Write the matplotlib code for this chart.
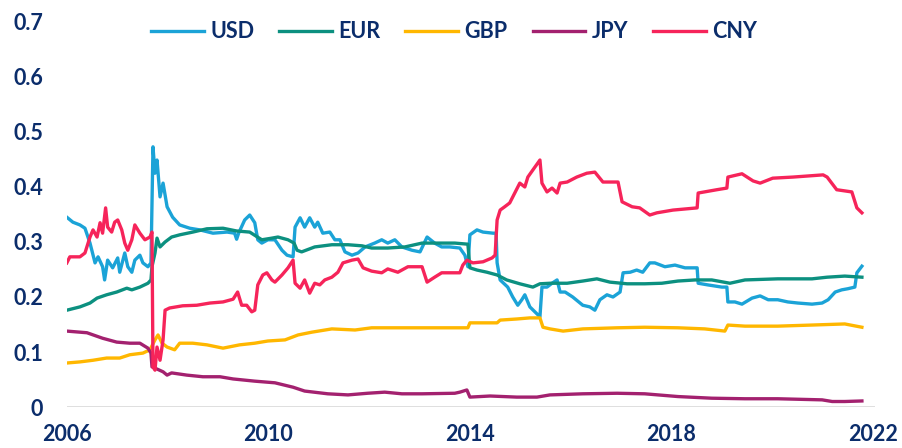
import matplotlib
matplotlib.use("Agg")
import matplotlib.pyplot as plt

# values (decimal year, share)
usd_t = [2006.00, 2006.12, 2006.26, 2006.36, 2006.46, 2006.56, 2006.62, 2006.71, 2006.75, 2006.81,
         2006.91, 2007.01, 2007.05, 2007.15, 2007.21, 2007.29, 2007.35, 2007.45, 2007.51, 2007.61,
         2007.67, 2007.71, 2007.75, 2007.79, 2007.85, 2007.91, 2007.99, 2008.10, 2008.24, 2008.44,
         2008.64, 2008.90, 2009.18, 2009.33, 2009.37, 2009.41, 2009.53, 2009.63, 2009.73, 2009.79,
         2009.87, 2009.99, 2010.13, 2010.27, 2010.37, 2010.49, 2010.53, 2010.63, 2010.72, 2010.82,
         2010.92, 2010.98, 2011.08, 2011.22, 2011.32, 2011.42, 2011.52, 2011.66, 2011.78, 2011.92,
         2012.11, 2012.25, 2012.37, 2012.51, 2012.65, 2012.85, 2013.01, 2013.15, 2013.30, 2013.44,
         2013.60, 2013.80, 2013.90, 2013.96, 2014.00, 2014.14, 2014.26, 2014.46, 2014.52, 2014.54,
         2014.60, 2014.75, 2014.85, 2014.95, 2015.03, 2015.09, 2015.19, 2015.29, 2015.39, 2015.43,
         2015.53, 2015.63, 2015.73, 2015.79, 2015.89, 2016.04, 2016.24, 2016.38, 2016.48, 2016.58,
         2016.72, 2016.84, 2016.98, 2017.04, 2017.18, 2017.31, 2017.43, 2017.57, 2017.67, 2017.87,
         2018.07, 2018.27, 2018.47, 2018.51, 2018.53, 2018.72, 2019.00, 2019.10, 2019.12, 2019.26,
         2019.40, 2019.60, 2019.76, 2019.92, 2020.11, 2020.31, 2020.51, 2020.79, 2020.99, 2021.11,
         2021.25, 2021.38, 2021.50, 2021.64, 2021.68, 2021.78]
usd = [0.345, 0.336, 0.331, 0.325, 0.298, 0.262, 0.273, 0.255, 0.231, 0.267,
       0.253, 0.271, 0.245, 0.280, 0.255, 0.245, 0.267, 0.276, 0.262, 0.255,
       0.262, 0.473, 0.425, 0.449, 0.382, 0.407, 0.364, 0.345, 0.331, 0.325,
       0.322, 0.316, 0.318, 0.316, 0.305, 0.316, 0.340, 0.349, 0.335, 0.304,
       0.298, 0.304, 0.304, 0.285, 0.276, 0.273, 0.327, 0.344, 0.327, 0.344,
       0.327, 0.336, 0.316, 0.318, 0.304, 0.304, 0.282, 0.276, 0.280, 0.291,
       0.298, 0.304, 0.298, 0.304, 0.291, 0.285, 0.282, 0.309, 0.298, 0.291,
       0.291, 0.289, 0.276, 0.255, 0.313, 0.322, 0.318, 0.316, 0.316, 0.262,
       0.231, 0.218, 0.200, 0.185, 0.195, 0.204, 0.182, 0.173, 0.164, 0.218,
       0.218, 0.225, 0.231, 0.209, 0.209, 0.200, 0.185, 0.182, 0.176, 0.195,
       0.204, 0.200, 0.209, 0.244, 0.245, 0.249, 0.245, 0.262, 0.262, 0.255,
       0.258, 0.253, 0.253, 0.253, 0.225, 0.222, 0.218, 0.218, 0.191, 0.191,
       0.187, 0.198, 0.202, 0.195, 0.195, 0.191, 0.189, 0.187, 0.189, 0.195,
       0.209, 0.213, 0.215, 0.218, 0.244, 0.256]

eur_t = [2006.00, 2006.26, 2006.46, 2006.60, 2006.79, 2006.99, 2007.19, 2007.29, 2007.45, 2007.61,
         2007.67, 2007.69, 2007.75, 2007.79, 2007.85, 2007.95, 2008.08, 2008.24, 2008.50, 2008.78,
         2009.10, 2009.37, 2009.63, 2009.87, 2010.07, 2010.19, 2010.39, 2010.51, 2010.57, 2010.66,
         2010.92, 2011.26, 2011.58, 2011.86, 2012.05, 2012.37, 2012.71, 2013.05, 2013.36, 2013.70,
         2013.96, 2014.00, 2014.14, 2014.34, 2014.54, 2014.73, 2014.99, 2015.25, 2015.39, 2015.59,
         2015.93, 2016.24, 2016.52, 2016.78, 2017.12, 2017.47, 2017.81, 2018.13, 2018.47, 2018.80,
         2019.16, 2019.46, 2020.11, 2020.79, 2021.09, 2021.44, 2021.78]
eur = [0.176, 0.182, 0.189, 0.198, 0.204, 0.209, 0.216, 0.213, 0.218, 0.225,
       0.231, 0.255, 0.280, 0.307, 0.291, 0.300, 0.309, 0.313, 0.318, 0.324,
       0.325, 0.320, 0.318, 0.304, 0.307, 0.309, 0.304, 0.298, 0.285, 0.282,
       0.291, 0.295, 0.295, 0.293, 0.289, 0.289, 0.291, 0.298, 0.298, 0.298,
       0.296, 0.253, 0.249, 0.245, 0.240, 0.231, 0.224, 0.218, 0.224, 0.225,
       0.225, 0.229, 0.233, 0.227, 0.224, 0.224, 0.225, 0.229, 0.231, 0.231,
       0.225, 0.231, 0.233, 0.233, 0.236, 0.238, 0.236]

gbp_t = [2006.00, 2006.26, 2006.52, 2006.79, 2007.05, 2007.25, 2007.51, 2007.65, 2007.75, 2007.81,
         2007.89, 2007.99, 2008.14, 2008.24, 2008.50, 2008.78, 2009.10, 2009.43, 2009.73, 2009.99,
         2010.33, 2010.59, 2010.86, 2011.26, 2011.72, 2012.05, 2012.71, 2013.70, 2013.96, 2014.00,
         2014.54, 2014.60, 2014.93, 2015.19, 2015.39, 2015.45, 2015.59, 2015.85, 2016.24, 2016.92,
         2017.47, 2018.13, 2018.66, 2019.06, 2019.12, 2019.46, 2020.11, 2020.79, 2021.44, 2021.78]
gbp = [0.080, 0.082, 0.085, 0.089, 0.089, 0.095, 0.098, 0.104, 0.122, 0.131,
       0.116, 0.109, 0.104, 0.116, 0.116, 0.113, 0.107, 0.113, 0.116, 0.120,
       0.122, 0.131, 0.136, 0.142, 0.140, 0.144, 0.144, 0.144, 0.144, 0.153,
       0.153, 0.158, 0.160, 0.162, 0.162, 0.145, 0.142, 0.138, 0.142, 0.144,
       0.145, 0.144, 0.142, 0.138, 0.149, 0.147, 0.147, 0.149, 0.151, 0.145]

jpy_t = [2006.00, 2006.40, 2006.71, 2006.99, 2007.25, 2007.45, 2007.61, 2007.67, 2007.69, 2007.79,
         2007.91, 2007.99, 2008.08, 2008.38, 2008.70, 2009.04, 2009.30, 2009.73, 2010.13, 2010.49,
         2010.72, 2011.18, 2011.58, 2011.97, 2012.31, 2012.65, 2013.05, 2013.70, 2013.80, 2013.94,
         2014.00, 2014.40, 2014.93, 2015.33, 2015.59, 2016.24, 2016.92, 2017.47, 2018.13, 2018.80,
         2019.46, 2020.11, 2020.99, 2021.19, 2021.44, 2021.78]
jpy = [0.138, 0.135, 0.125, 0.118, 0.116, 0.116, 0.107, 0.098, 0.073, 0.069,
       0.064, 0.058, 0.062, 0.058, 0.055, 0.055, 0.051, 0.047, 0.044, 0.036,
       0.029, 0.024, 0.022, 0.025, 0.027, 0.024, 0.024, 0.025, 0.027, 0.031,
       0.018, 0.020, 0.018, 0.018, 0.022, 0.024, 0.025, 0.024, 0.019, 0.016,
       0.015, 0.015, 0.013, 0.010, 0.010, 0.011]

cny_t = [2006.00, 2006.06, 2006.26, 2006.36, 2006.46, 2006.52, 2006.60, 2006.66, 2006.71, 2006.77,
         2006.81, 2006.89, 2006.95, 2007.01, 2007.09, 2007.15, 2007.21, 2007.29, 2007.35, 2007.45,
         2007.55, 2007.65, 2007.69, 2007.71, 2007.75, 2007.79, 2007.85, 2007.91, 2007.95, 2008.04,
         2008.30, 2008.58, 2008.84, 2009.10, 2009.30, 2009.39, 2009.47, 2009.57, 2009.67, 2009.73,
         2009.79, 2009.89, 2009.97, 2010.07, 2010.13, 2010.27, 2010.39, 2010.49, 2010.53, 2010.63,
         2010.72, 2010.82, 2010.92, 2011.02, 2011.12, 2011.26, 2011.38, 2011.48, 2011.66, 2011.78,
         2011.88, 2012.05, 2012.25, 2012.37, 2012.57, 2012.77, 2013.05, 2013.15, 2013.30, 2013.44,
         2013.70, 2013.80, 2013.86, 2013.94, 2014.06, 2014.26, 2014.44, 2014.50, 2014.54, 2014.60,
         2014.69, 2014.79, 2014.89, 2014.99, 2015.09, 2015.15, 2015.25, 2015.39, 2015.43, 2015.53,
         2015.63, 2015.73, 2015.79, 2015.93, 2016.12, 2016.32, 2016.48, 2016.64, 2016.94, 2017.02,
         2017.22, 2017.37, 2017.57, 2017.71, 2018.03, 2018.51, 2018.53, 2018.90, 2019.10, 2019.12,
         2019.40, 2019.62, 2019.76, 2020.01, 2020.41, 2021.01, 2021.09, 2021.28, 2021.58, 2021.68,
         2021.78]
cny = [0.262, 0.273, 0.273, 0.280, 0.309, 0.322, 0.309, 0.335, 0.316, 0.362,
       0.327, 0.318, 0.336, 0.340, 0.322, 0.298, 0.285, 0.304, 0.331, 0.316,
       0.304, 0.309, 0.318, 0.073, 0.067, 0.109, 0.085, 0.122, 0.176, 0.180,
       0.184, 0.185, 0.189, 0.191, 0.196, 0.209, 0.185, 0.185, 0.173, 0.176,
       0.222, 0.240, 0.244, 0.231, 0.227, 0.240, 0.253, 0.267, 0.225, 0.216,
       0.231, 0.207, 0.225, 0.222, 0.231, 0.236, 0.245, 0.262, 0.267, 0.269,
       0.253, 0.247, 0.244, 0.251, 0.245, 0.255, 0.255, 0.227, 0.236, 0.244,
       0.244, 0.244, 0.258, 0.267, 0.262, 0.264, 0.271, 0.276, 0.340, 0.358,
       0.364, 0.371, 0.389, 0.407, 0.400, 0.418, 0.431, 0.449, 0.407, 0.391,
       0.398, 0.389, 0.407, 0.409, 0.418, 0.425, 0.427, 0.409, 0.409, 0.373,
       0.364, 0.362, 0.349, 0.353, 0.358, 0.362, 0.389, 0.395, 0.398, 0.418,
       0.424, 0.411, 0.407, 0.416, 0.418, 0.422, 0.418, 0.395, 0.391, 0.362,
       0.353]

series = [("USD", usd_t, usd, "#1ba3d7"),
          ("EUR", eur_t, eur, "#0c9080"),
          ("GBP", gbp_t, gbp, "#ffb700"),
          ("JPY", jpy_t, jpy, "#a3216f"),
          ("CNY", cny_t, cny, "#f6245a")]

years = [2006, 2010, 2014, 2018, 2022]
yticks = [0, 0.1, 0.2, 0.3, 0.4, 0.5, 0.6, 0.7]
ytick_labels = ["0", "0.1", "0.2", "0.3", "0.4", "0.5", "0.6", "0.7"]

navy = "#0b2d6b"
plt.rcParams['font.family'] = ['Lato', 'DejaVu Sans']

fig = plt.figure(figsize=(9.03, 4.48), dpi=100)
ax = fig.add_axes([0.074, 0.0915, 0.895, 0.8595])

for name, t, v, c in series:
    ax.plot(t, v, color=c, lw=2.4, label=name, solid_joinstyle='round')

ax.set_xlim(2006, 2022.04)
ax.set_ylim(0, 0.7)
ax.set_xticks(years)
ax.set_xticklabels([str(y) for y in years])
ax.set_yticks(yticks)
ax.set_yticklabels(ytick_labels)
ax.tick_params(length=0, labelsize=15.5, labelcolor=navy)
ax.tick_params(axis='y', pad=17)
ax.tick_params(axis='x', pad=12)
for lab in ax.get_xticklabels() + ax.get_yticklabels():
    lab.set_fontweight('bold')

for s in ax.spines.values():
    s.set_visible(False)
ax.axhline(0, color="#dcdcdc", lw=2, zorder=0)

leg = fig.legend(loc='center', bbox_to_anchor=(0.503, 0.929), ncol=5, frameon=False,
                 handlelength=2.45, handletextpad=0.3, columnspacing=1.15,
                 prop={'size': 15.5, 'weight': 'bold'})
for txt in leg.get_texts():
    txt.set_color(navy)

fig.savefig("out.png", dpi=100)
